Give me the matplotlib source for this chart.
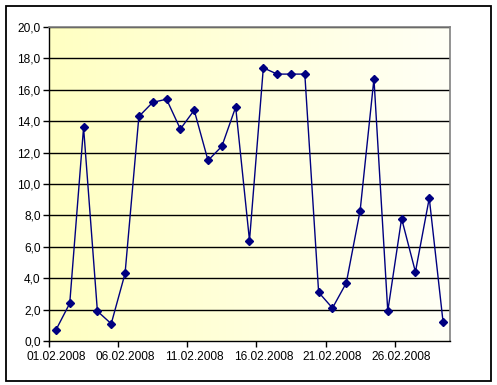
import numpy as np
import matplotlib
matplotlib.use("Agg")
import matplotlib.pyplot as plt
from matplotlib.colors import LinearSegmentedColormap
from matplotlib.patches import Rectangle

# data, one value per day of Feb 2008
days = [f"{d:02d}.02.2008" for d in range(1, 30)]
values = [0.7, 2.4, 13.6, 1.9, 1.1, 4.3, 14.3, 15.2, 15.4, 13.5,
          14.7, 11.5, 12.4, 14.9, 6.4, 17.4, 17.0, 17.0, 17.0, 3.1,
          2.1, 3.7, 8.3, 16.7, 1.9, 7.8, 4.4, 9.1, 1.2]
y_ticks = np.arange(0, 21, 2)
y_labels = [f"{v:.1f}".replace(".", ",") for v in y_ticks]

plt.rcParams['font.family'] = ['Liberation Sans', 'DejaVu Sans']

fig = plt.figure(figsize=(4.97, 3.85), dpi=100)
W, H = 497, 385
ax = fig.add_axes([49 / W, 1 - 341 / H, 401 / W, 314 / H])

x = np.arange(len(values))
ax.set_xlim(-0.5, len(values) - 0.5)
ax.set_ylim(0, 20)

# yellow -> white gradient background
cmap = LinearSegmentedColormap.from_list("bg", ["#ffffc2", "#fffff6"])
grad = np.linspace(0, 1, 256).reshape(1, -1)
ax.imshow(grad, cmap=cmap, aspect="auto", extent=(-0.5, len(values) - 0.5, 0, 20),
          zorder=0, interpolation="bicubic")

for v in y_ticks[1:]:
    ax.axhline(v, color="black", lw=1.0, zorder=1)

ax.plot(x, values, color="#000080", lw=1.0, marker="D", markersize=4.2,
        markerfacecolor="#000080", markeredgecolor="#000080", zorder=3)

ax.set_yticks(y_ticks)
ax.set_yticklabels(y_labels, fontsize=8.6)
ax.tick_params(axis="y", direction="out", length=4, width=1, pad=2)

lab_pos = list(range(0, len(values), 5))
ax.set_xticks(lab_pos)
ax.set_xticklabels([days[i] for i in lab_pos], fontsize=8.6)
ax.set_xticks([p - 0.5 for p in lab_pos], minor=True)
ax.tick_params(axis="x", which="major", length=0, pad=7)
ax.tick_params(axis="x", which="minor", direction="out", length=4, width=1)

for s in ["left", "bottom"]:
    ax.spines[s].set_color("black")
    ax.spines[s].set_linewidth(1.0)
for s in ["top", "right"]:
    ax.spines[s].set_color("#808080")
    ax.spines[s].set_linewidth(1.2)

# outer chart border
fig.patches.append(Rectangle((5.5 / W, 1 - 381 / H), 485.5 / W, 375.5 / H,
                             transform=fig.transFigure, fill=False,
                             edgecolor="black", lw=1.3))

fig.savefig("out.png", dpi=100)
